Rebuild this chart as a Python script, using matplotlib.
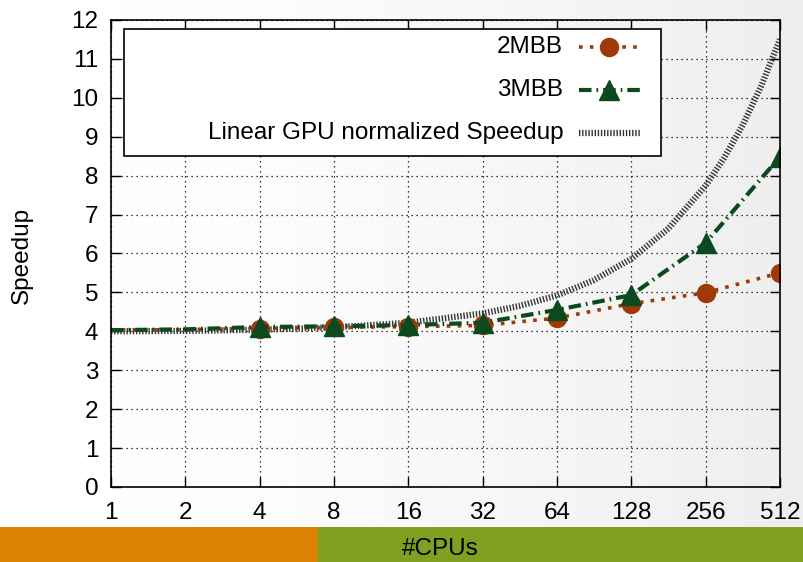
import numpy as np
import matplotlib.pyplot as plt
from matplotlib.patches import Rectangle

plt.rcParams['font.family'] = ['Liberation Sans', 'DejaVu Sans']

# data
cpus = [1, 2, 4, 8, 16, 32, 64, 128, 256, 512]
tick_labels = ['1', '2', '4', '8', '16', '32', '64', '128', '256', '512']
mbb2 = [4.03, 4.04, 4.07, 4.10, 4.12, 4.15, 4.34, 4.71, 4.99, 5.50]
mbb3 = [4.03, 4.05, 4.11, 4.13, 4.16, 4.22, 4.55, 4.93, 6.27, 8.48]
# the linear reference curve, read at extra points so it stays smooth
lin_x = [1, 2, 4, 8, 16, 32, 45, 64, 90, 128, 181, 256, 304, 362, 430, 512]
lin_y = [4.00, 4.01, 4.04, 4.10, 4.22, 4.46, 4.65, 4.92, 5.31, 5.86,
         6.64, 7.74, 8.45, 9.30, 10.30, 11.50]

c2 = '#a03808'
c3 = '#0b4a1e'
cl = '#333333'
fs = 17.5

fig = plt.figure(figsize=(8.04, 5.62), dpi=100)

# faint slide background shading, whiter on the left
bg = fig.add_axes([0, 0, 1, 1], zorder=-10)
gx, gy = np.meshgrid(np.linspace(0, 1, 200), np.linspace(0, 1, 200))
bg.imshow(1 - 0.07 * gx ** 1.5, cmap='gray', vmin=0, vmax=1,
          aspect='auto', extent=(0, 1, 0, 1))
bg.axis('off')

ax = fig.add_axes([0.138, 0.1335, 0.832, 0.831])
ax.set_facecolor('none')

ax.plot(lin_x, lin_y, color=cl, lw=4.5, dashes=(0.22, 0.28), solid_capstyle='butt')
ax.plot(cpus, mbb2, color=c2, lw=2.6, dashes=(1.0, 2.0),
        marker='o', ms=13, markevery=list(range(2, 10)))
ax.plot(cpus, mbb3, color=c3, lw=3, dashes=(3.0, 1.2, 0.4, 1.2),
        marker='^', ms=15, markevery=list(range(2, 10)))

ax.set_xscale('log', base=2)
ax.set_xlim(1, 512)
ax.set_ylim(0, 12)
ax.set_xticks(cpus)
ax.set_xticklabels(tick_labels)
ax.set_yticks(range(0, 13))
ax.minorticks_off()
ax.tick_params(direction='in', length=7, width=1, top=True, right=True,
               labelsize=fs)
ax.tick_params(axis='x', pad=11)
ax.tick_params(axis='y', pad=9)
ax.grid(True, color='black', ls=(0, (1, 3)), lw=0.9)
for s in ax.spines.values():
    s.set_linewidth(1.2)

fig.text(22 / 804, 0.546, 'Speedup', rotation=90, ha='center', va='center',
         fontsize=fs)

# key box drawn by hand so the texts can sit right-aligned like gnuplot
ax.add_patch(Rectangle((0.0194, 0.709), 0.803, 0.272, transform=ax.transAxes,
                       facecolor='white', edgecolor='black', lw=1.2, zorder=5))
rows = [('2MBB', 0.942), ('3MBB', 0.850), ('Linear GPU normalized Speedup', 0.758)]
for name, yy in rows:
    ax.text(0.676, yy, name, transform=ax.transAxes, ha='right', va='center',
            fontsize=fs, zorder=6)
ax.plot([0.699, 0.791], [0.942, 0.942], transform=ax.transAxes, color=c2,
        lw=2.6, dashes=(1.0, 2.0), zorder=6, clip_on=False)
ax.plot([0.745], [0.942], transform=ax.transAxes, color=c2, marker='o', ms=13,
        zorder=7, clip_on=False)
ax.plot([0.699, 0.791], [0.850, 0.850], transform=ax.transAxes, color=c3,
        lw=3, dashes=(3.0, 1.2, 0.4, 1.2), zorder=6, clip_on=False)
ax.plot([0.745], [0.850], transform=ax.transAxes, color=c3, marker='^', ms=15,
        zorder=7, clip_on=False)
ax.plot([0.699, 0.791], [0.758, 0.758], transform=ax.transAxes, color=cl,
        lw=4.5, dashes=(0.22, 0.28), solid_capstyle='butt', zorder=6, clip_on=False)

# coloured slide band at the bottom
fig.patches.append(Rectangle((0, 0), 0.3955, 0.0623, transform=fig.transFigure,
                             facecolor='#d98300', edgecolor='none'))
fig.patches.append(Rectangle((0.3955, 0), 0.6045, 0.0623, transform=fig.transFigure,
                             facecolor='#7fa020', edgecolor='none'))
fig.text(0.548, 0.023, '#CPUs', ha='center', va='center', fontsize=fs)

fig.savefig('out.png', dpi=100)
